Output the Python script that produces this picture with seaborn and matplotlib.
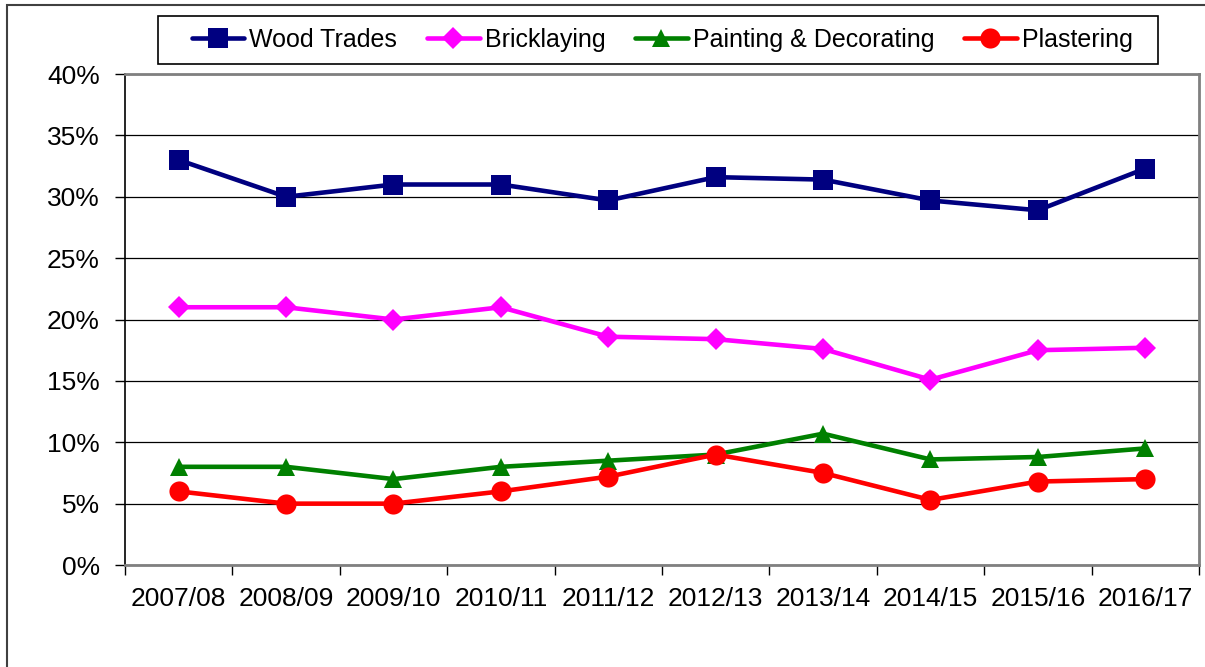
import matplotlib
matplotlib.use('Agg')
import matplotlib.pyplot as plt
from matplotlib.patches import Rectangle
from matplotlib.ticker import FixedLocator, PercentFormatter
import pandas as pd
import seaborn as sns

# Data (percent)
years = ['2007/08', '2008/09', '2009/10', '2010/11', '2011/12',
         '2012/13', '2013/14', '2014/15', '2015/16', '2016/17']
wood_trades = [33.0, 30.0, 31.0, 31.0, 29.7, 31.6, 31.4, 29.7, 28.9, 32.3]
bricklaying = [21.0, 21.0, 20.0, 21.0, 18.6, 18.4, 17.6, 15.1, 17.5, 17.7]
painting = [8.0, 8.0, 7.0, 8.0, 8.5, 9.0, 10.7, 8.6, 8.8, 9.5]
plastering = [6.0, 5.0, 5.0, 6.0, 7.2, 9.0, 7.5, 5.3, 6.8, 7.0]

series = {
    'Wood Trades': wood_trades,
    'Bricklaying': bricklaying,
    'Painting & Decorating': painting,
    'Plastering': plastering,
}

# long format for seaborn
rows = []
for name, vals in series.items():
    for i, v in enumerate(vals):
        rows.append({'idx': i, 'value': v, 'trade': name})
df = pd.DataFrame(rows)

sns.set_style('white')
plt.rcParams['font.family'] = ['Liberation Sans', 'DejaVu Sans']
plt.rcParams['text.color'] = 'black'
plt.rcParams['xtick.color'] = 'black'
plt.rcParams['ytick.color'] = 'black'

fig = plt.figure(figsize=(12.05, 6.67), dpi=100)
ax = fig.add_axes([0.1037, 0.1529, 0.8913, 0.7361])

palette = {'Wood Trades': '#000080', 'Bricklaying': '#FF00FF',
           'Painting & Decorating': '#008000', 'Plastering': '#FF0000'}
markers = {'Wood Trades': 's', 'Bricklaying': 'D',
           'Painting & Decorating': '^', 'Plastering': 'o'}
sizes = {'Wood Trades': 14, 'Bricklaying': 11,
         'Painting & Decorating': 13.5, 'Plastering': 14.5}

for name in series:
    sub = df[df['trade'] == name]
    sns.lineplot(data=sub, x='idx', y='value', ax=ax, color=palette[name],
                 marker=markers[name], markersize=sizes[name],
                 markeredgewidth=0, linewidth=3.3, label=name)

ax.set_xlim(-0.5, len(years) - 0.5)
ax.set_ylim(0, 40)
ax.set_xlabel('')
ax.set_ylabel('')

ax.set_xticks(range(len(years)))
ax.set_xticklabels(years, fontsize=19)
ax.xaxis.set_minor_locator(FixedLocator([i - 0.5 for i in range(len(years) + 1)]))
ax.tick_params(axis='x', which='major', length=0, pad=16)
ax.tick_params(axis='x', which='minor', length=7, width=1, color='black', direction='out')

ax.set_yticks(range(0, 41, 5))
ax.yaxis.set_major_formatter(PercentFormatter(decimals=0))
ax.tick_params(axis='y', which='major', length=7, width=1, color='black',
               direction='out', labelsize=19, pad=11)
ax.tick_params(bottom=True, left=True, which='both')

ax.grid(axis='y', color='black', linewidth=0.9)
ax.set_axisbelow(True)

for side in ['top', 'right', 'bottom']:
    ax.spines[side].set_color('#808080')
    ax.spines[side].set_linewidth(2)
ax.spines['left'].set_color('black')
ax.spines['left'].set_linewidth(1.2)

# legend without its own frame; the box is drawn separately (wider side padding)
ax.legend_.remove()
handles, labels = ax.get_legend_handles_labels()
fig.legend(handles, labels, loc='center', ncol=4,
           bbox_to_anchor=(0.5495, 0.94), bbox_transform=fig.transFigure,
           fontsize=18, frameon=False,
           handlelength=2.1, handletextpad=0.2, columnspacing=1.2)
fig.add_artist(Rectangle((158 / 1205, 1 - 64 / 667), 1000 / 1205, 48 / 667,
                         transform=fig.transFigure, fill=False,
                         edgecolor='black', linewidth=1.2))

# outer chart border
fig.add_artist(Rectangle((0.0058, -0.01), 1.2, 1.0025, transform=fig.transFigure,
                         fill=False, edgecolor='#404040', linewidth=1.5))

fig.savefig('out.png', dpi=100)
